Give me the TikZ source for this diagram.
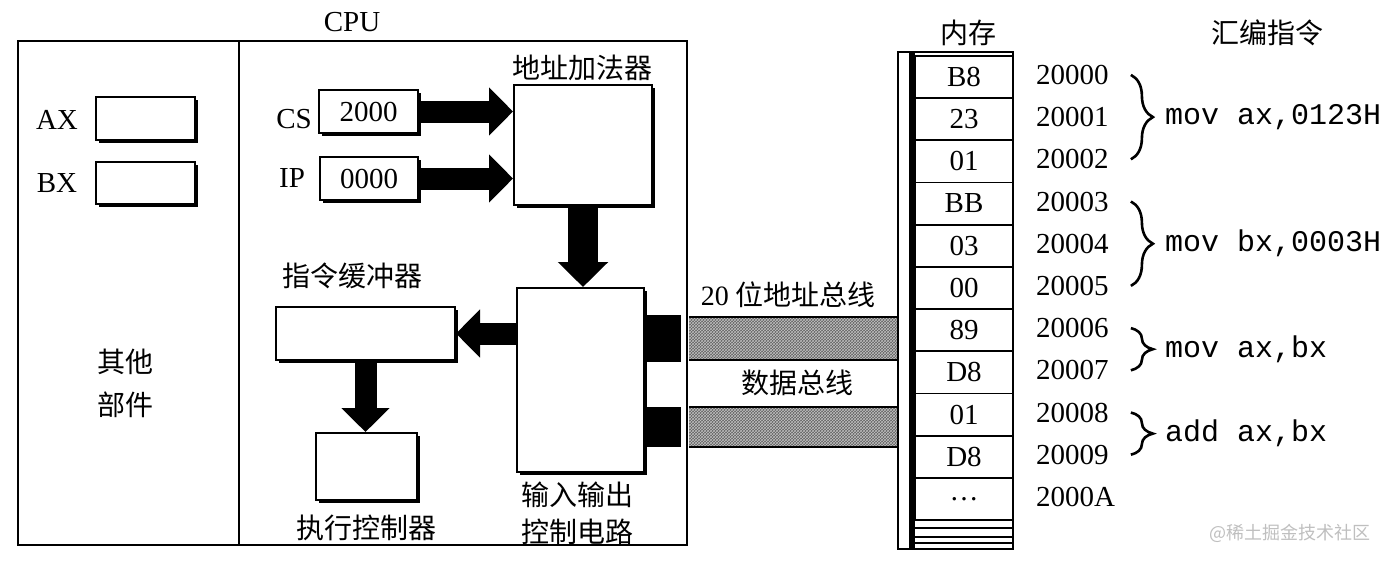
\documentclass[tikz,border=0pt]{standalone}
\usepackage{fontspec}
\setmainfont{Liberation Serif}
\setmonofont{Liberation Mono}
\newfontfamily\cjk{Noto Sans CJK SC}
\usetikzlibrary{arrows.meta, patterns, decorations.pathreplacing, shadows, positioning, calc}

\begin{document}
\begin{tikzpicture}[x=1pt, y=-1pt,
    txt/.style  = {font=\fontsize{29}{32}\selectfont, inner sep=0pt},
    zh/.style   = {font=\cjk\fontsize{28}{37}\selectfont, inner sep=0pt, align=center},
    box/.style  = {draw, fill=white, line width=2pt, inner sep=0pt,
                   drop shadow={shadow xshift=2.5pt, shadow yshift=-2.5pt, opacity=1, fill=black}},
    fat/.style  = {line width=22pt, -{Triangle[width=47pt, length=24pt]}},
    cell/.style = {draw, line width=1.8pt, minimum width=98pt, minimum height=42.2pt,
                   inner sep=0pt, font=\fontsize{29}{32}\selectfont},
    code/.style = {font=\ttfamily\fontsize{30}{32}\selectfont, inner sep=0pt, anchor=west},
    brace/.style= {decorate, decoration={brace, amplitude=22pt}, line width=2.6pt},
    bus/.style  = {fill=black!62, postaction={pattern=crosshatch, pattern color=black!25}}]

    \useasboundingbox (0,0) rectangle (1388,560);

    % CPU
    \draw[line width=2.8pt] (18,41) rectangle (687,545);
    \draw[line width=2pt] (239,41) -- (239,545);
    \node[txt] (cpu) at (352,22) {CPU};

    % other parts
    \node[box, minimum width=99pt, minimum height=43pt] (ax) at (145.5,118.5) {};
    \node[box, minimum width=99pt, minimum height=42pt] (bx) at (145.5,183) {};
    \node[txt] (axl) at (57,120) {AX};
    \node[txt] (bxl) at (57,183) {BX};
    \node[zh, font=\cjk\fontsize{28}{43}\selectfont] (other) at (125,383) {其他\\部件};

    % segment and offset registers
    \node[box, minimum width=99pt, minimum height=43pt, txt] (cs) at (368.5,111.5) {2000};
    \node[box, minimum width=98pt, minimum height=43pt, txt] (ip) at (369,178.5) {0000};
    \node[txt] (csl) at (294,119) {CS};
    \node[txt] (ipl) at (292,178) {IP};

    \node[box, minimum width=138pt, minimum height=120pt] (add) at (583,145) {};
    \node[zh] (addl) at (582,68) {地址加法器};

    \node[box, minimum width=127pt, minimum height=184pt] (io) at (580.5,380) {};
    \node[zh] (iol) at (577,513) {输入输出\\控制电路};

    \node[box, minimum width=179pt, minimum height=53pt] (buf) at (365.5,333.5) {};
    \node[zh] (bufl) at (352,276) {指令缓冲器};

    \node[box, minimum width=101pt, minimum height=67pt] (exe) at (366.5,466.5) {};
    \node[zh] (exel) at (366,528) {执行控制器};

    \draw[fat] (cs.east) -- (cs.east -| add.west);
    \draw[fat] (ip.east) -- (ip.east -| add.west);
    \draw[fat, line width=30pt, -{Triangle[width=49pt, length=25pt]}] (add.south) -- (add.south |- io.north);
    \draw[fat] (io.west |- buf.east) -- (buf.east);
    \draw[fat] (buf.south) -- (buf.south |- exe.north);

    % buses
    \fill (644,315) rectangle (681,362);
    \fill (644,407) rectangle (681,447);
    \fill[bus] (689,317) rectangle (898,360);
    \fill[bus] (689,407) rectangle (898,447);
    \draw[line width=1.5pt] (689,317) -- (898,317) (689,360) -- (898,360);
    \draw[line width=1.5pt] (689,407) -- (898,407) (689,447) -- (898,447);
    \node[zh] (abus) at (788,295) {{\rmfamily 20} 位地址总线};
    \node[zh] (dbus) at (797,383) {数据总线};

    % memory
    \draw[line width=2pt] (898,52) rectangle (1013,549);
    \foreach \v [count=\i] in {B8,23,01,BB,03,00,89,D8,01,D8,\dots}
        \node[cell] (m\i) at (964, {34.7+42.2*\i}) {\v};
    \draw[line width=6pt] (912,52) -- (912,549);
    \foreach \y in {528,537,543}
        \draw[line width=1.5pt] (915,\y) -- (1013,\y);
    \node[zh] (meml) at (968,33) {内存};

    \foreach \a [count=\i] in {20000,20001,20002,20003,20004,20005,20006,20007,20008,20009,2000A}
        \node[txt, anchor=west] (a\i) at (1036, {32.7+42.2*\i}) {\a};

    % instructions
    \node[zh] (asml) at (1267,33) {汇编指令};
    \draw[brace] ([xshift=22pt]a1.east) -- ([xshift=22pt]a3.east)
        node[code, midway, xshift=33pt] (i1) {mov ax,0123H};
    \draw[brace] ([xshift=22pt]a4.east) -- ([xshift=22pt]a6.east)
        node[code, midway, xshift=33pt] (i2) {mov bx,0003H};
    \draw[brace] ([xshift=22pt]a7.east) -- ([xshift=22pt]a8.east)
        node[code, midway, xshift=33pt] (i3) {mov ax,bx};
    \draw[brace] ([xshift=22pt]a9.east) -- ([xshift=22pt]a10.east)
        node[code, midway, xshift=33pt] (i4) {add ax,bx};

    \node[zh, font=\cjk\fontsize{18}{20}\selectfont, text=gray!50] (mark) at (1290,533) {@稀土掘金技术社区};

\end{tikzpicture}
\end{document}
